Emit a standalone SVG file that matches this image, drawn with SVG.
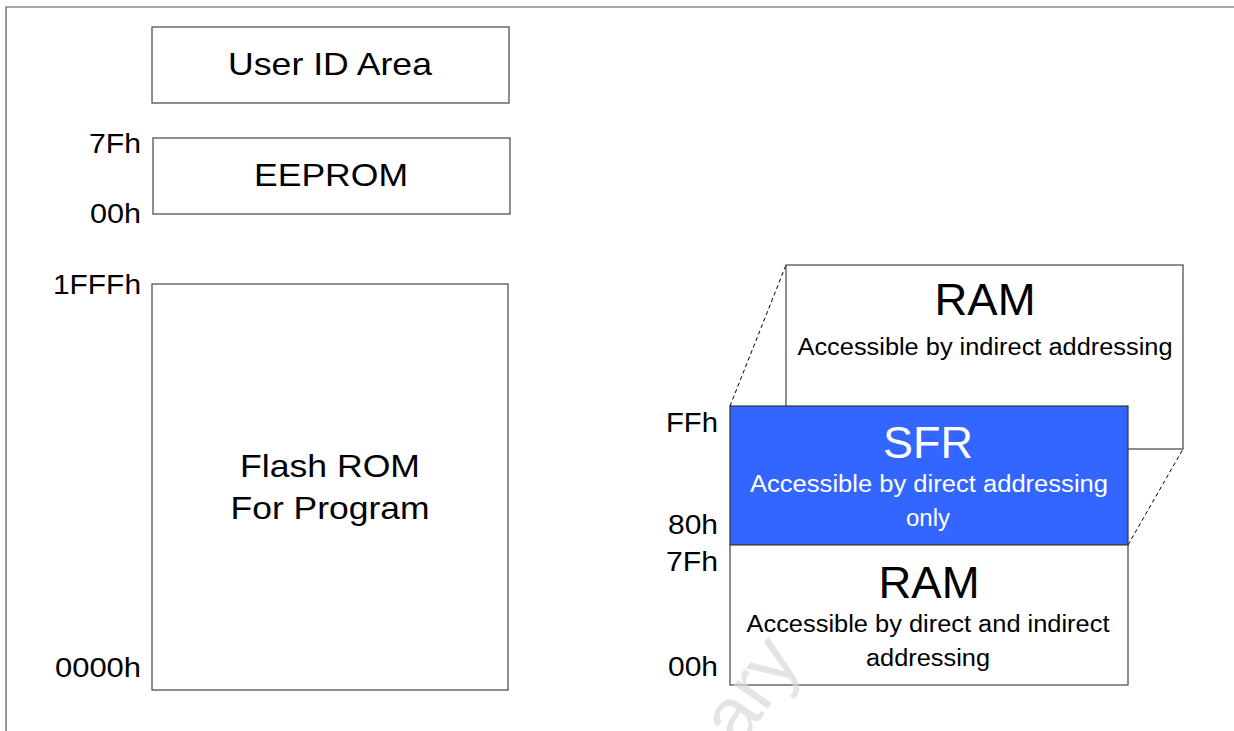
<svg xmlns="http://www.w3.org/2000/svg" width="1234" height="731" viewBox="0 0 1234 731">
<style>
.box{fill:#ffffff;stroke:#444444;stroke-width:1.2}
.sfr{fill:#3366FF;stroke:#333333;stroke-width:1.2}
.t{font-family:"Liberation Sans",Arial,sans-serif;fill:#000000;text-anchor:middle}
.lbl{font-family:"Liberation Sans",Arial,sans-serif;fill:#000000;font-size:27px;text-anchor:end}
.big{font-size:32px}
.huge{font-size:44px}
.sm{font-size:23px}
.w{fill:#ffffff}
.dash{stroke:#000000;stroke-width:1;stroke-dasharray:4,3;fill:none}
</style>
<rect width="1234" height="731" fill="#ffffff"/>
<path d="M6,731 V7 H1234" fill="none" stroke="#555555" stroke-width="1.2"/>
<g id="user-id">
<rect class="box" x="152" y="27" width="357" height="76"/>
<text class="t big" x="330" y="75" textLength="204" lengthAdjust="spacingAndGlyphs">User ID Area</text>
</g>
<g id="eeprom">
<rect class="box" x="153" y="138" width="357" height="76"/>
<text class="t big" x="331" y="186" textLength="154" lengthAdjust="spacingAndGlyphs">EEPROM</text>
<text class="lbl" x="141" y="153" textLength="52" lengthAdjust="spacingAndGlyphs">7Fh</text>
<text class="lbl" x="141" y="223" textLength="51" lengthAdjust="spacingAndGlyphs">00h</text>
</g>
<g id="flash">
<rect class="box" x="152" y="284" width="356" height="406"/>
<text class="t big" x="330" y="477" textLength="180" lengthAdjust="spacingAndGlyphs">Flash ROM</text>
<text class="t big" x="330" y="519" textLength="199" lengthAdjust="spacingAndGlyphs">For Program</text>
<text class="lbl" x="141" y="294" textLength="88" lengthAdjust="spacingAndGlyphs">1FFFh</text>
<text class="lbl" x="141" y="677" textLength="86" lengthAdjust="spacingAndGlyphs">0000h</text>
</g>
<g id="connectors">
<line class="dash" x1="730" y1="406" x2="786" y2="265"/>
<line class="dash" x1="1128" y1="406" x2="1183" y2="265"/>
<line class="dash" x1="1128" y1="545" x2="1183" y2="449"/>
</g>
<g id="ram-upper">
<rect class="box" x="786" y="265" width="397" height="184"/>
<text class="t huge" x="985" y="315" textLength="101" lengthAdjust="spacingAndGlyphs">RAM</text>
<text class="t sm" x="985" y="355" textLength="375" lengthAdjust="spacingAndGlyphs">Accessible by indirect addressing</text>
</g>
<g id="sfr">
<rect class="sfr" x="730" y="406" width="398" height="139"/>
<text class="t huge w" x="928" y="458" textLength="90" lengthAdjust="spacingAndGlyphs">SFR</text>
<text class="t sm w" x="929" y="492" textLength="358" lengthAdjust="spacingAndGlyphs">Accessible by direct addressing</text>
<text class="t sm w" x="928" y="526" textLength="44" lengthAdjust="spacingAndGlyphs">only</text>
<text class="lbl" x="718" y="432" textLength="52" lengthAdjust="spacingAndGlyphs">FFh</text>
<text class="lbl" x="718" y="534" textLength="50" lengthAdjust="spacingAndGlyphs">80h</text>
</g>
<g id="ram-lower">
<rect class="box" x="730" y="545" width="398" height="140"/>
<text class="t huge" x="929" y="598" textLength="101" lengthAdjust="spacingAndGlyphs">RAM</text>
<text class="t sm" x="928" y="632" textLength="363" lengthAdjust="spacingAndGlyphs">Accessible by direct and indirect</text>
<text class="t sm" x="928" y="666" textLength="124" lengthAdjust="spacingAndGlyphs">addressing</text>
<text class="lbl" x="718" y="571" textLength="52" lengthAdjust="spacingAndGlyphs">7Fh</text>
<text class="lbl" x="718" y="676" textLength="50" lengthAdjust="spacingAndGlyphs">00h</text>
</g>
<text transform="translate(802,660) rotate(-55)" font-family="Liberation Sans,Arial,sans-serif" font-size="78" fill="#d8d8d8" fill-opacity="0.7" text-anchor="end">Preliminary</text>
</svg>
